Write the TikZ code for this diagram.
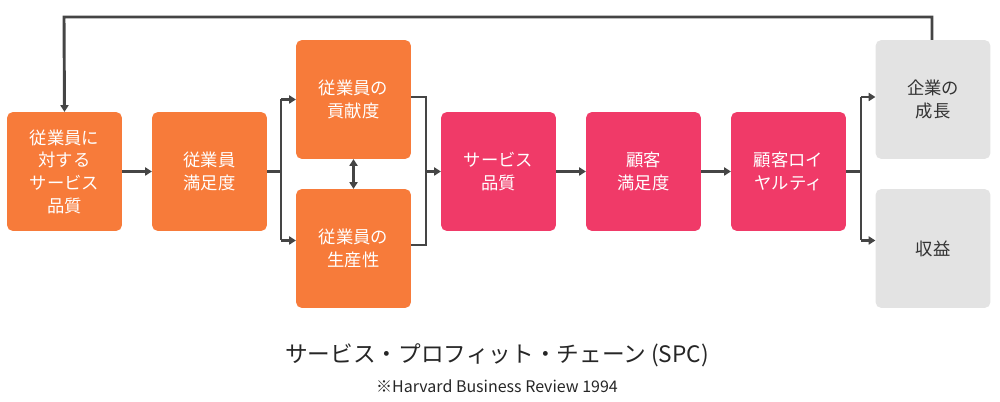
\documentclass[tikz,border=0pt]{standalone}
\usepackage{fontspec}
\setmainfont{Noto Sans CJK JP}
\usetikzlibrary{arrows.meta}
\definecolor{org}{HTML}{F77B3A}
\definecolor{pnk}{HTML}{F03A68}
\definecolor{gry}{HTML}{E3E3E3}
\definecolor{ln}{HTML}{454545}
\begin{document}
\begin{tikzpicture}[x=0.75pt,y=-0.75pt,
 box/.style={rounded corners=4pt,minimum width=86pt,minimum height=89pt,align=center,font=\fontsize{13}{17}\selectfont,inner sep=0pt},
 ob/.style={box,fill=org,text=white},
 pb/.style={box,fill=pnk,text=white},
 gb/.style={box,fill=gry,text=black!80},
 con/.style={draw=ln,line width=2.2pt,-{Triangle[length=5pt,width=6pt]}},
 pl/.style={draw=ln,line width=2.2pt}]
\useasboundingbox (0,0) rectangle (1000,402);
\node[ob] (b1) at (64.5,171.5) {従業員に\\対する\\サービス\\品質};
\node[ob] (b2) at (209.5,171.5) {従業員\\満足度};
\node[ob] (b3) at (353.5,99.5) {従業員の\\貢献度};
\node[ob] (b4) at (353.5,248.5) {従業員の\\生産性};
\node[pb] (b5) at (498.5,171.5) {サービス\\品質};
\node[pb] (b6) at (643.5,171.5) {顧客\\満足度};
\node[pb] (b7) at (788.5,171.5) {顧客ロイ\\ヤルティ};
\node[gb] (b8) at (933,99.5) {企業の\\成長};
\node[gb] (b9) at (933,248.5) {収益};
\coordinate (s1) at (281,171.5);
\coordinate (m1) at (426,171.5);
\coordinate (s2) at (861,171.5);
\draw[con] (b1) -- (b2);
\draw[pl] (b2.east) -- (s1);
\draw[pl] (281,99.5) -- (281,240.5);
\draw[con] (281,99.5) -- (b3.west|-281,99.5);
\draw[con] (281,240.5) -- (b4.west|-281,240.5);
\draw[draw=ln,line width=2.2pt,{Triangle[length=5pt,width=6pt]}-{Triangle[length=5pt,width=6pt]}] (b3) -- (b4);
\draw[pl] (b3.east|-0,97) -- (426,97) -- (426,245) -- (b4.east|-0,245);
\draw[con] (m1) -- (b5);
\draw[con] (b5) -- (b6);
\draw[con] (b6) -- (b7);
\draw[pl] (b7.east) -- (s2);
\draw[pl] (861,97) -- (861,240.5);
\draw[con] (861,97) -- (b8.west|-0,97);
\draw[con] (861,240.5) -- (b9.west|-0,240.5);
\draw[con] (932,40) -- (932,17) -- (64,17) -- (b1.north);
\node[text=black!85,font=\fontsize{17}{20}\selectfont] (t) at (497,355) {サービス・プロフィット・チェーン (SPC)};
\node[text=black!85,font=\fontsize{12}{14}\selectfont] (st) at (497,386) {※Harvard Business Review 1994};
\end{tikzpicture}
\end{document}
